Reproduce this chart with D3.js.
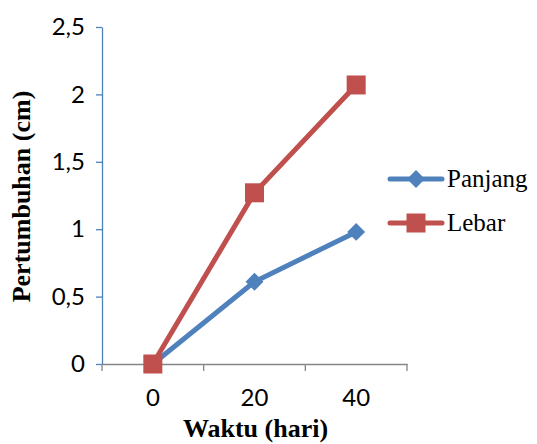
<!DOCTYPE html>
<html>
<head>
<meta charset="utf-8">
<script src="https://cdn.jsdelivr.net/npm/d3@7"></script>
<style>
  html, body { margin: 0; padding: 0; background: #fff; }
  svg { display: block; }
</style>
</head>
<body>
<svg id="chart" width="537" height="444"></svg>
<script>
// Growth measurements (cm) at each observation day
const days = ["0", "20", "40"];
const panjang = [0, 0.61, 0.98];
const lebar = [0, 1.27, 2.07];
const yTicks = [0, 0.5, 1, 1.5, 2, 2.5];
const seriesNames = ["Panjang", "Lebar"];
const seriesColors = ["#4F81BD", "#C0504D"];

const svg = d3.select("#chart");
const plot = { left: 102, right: 407, top: 27, bottom: 364 };

const x = d3.scaleBand().domain(days).range([plot.left, plot.right]);
const y = d3.scaleLinear().domain([0, 2.5]).range([plot.bottom, plot.top]);

const fmt = d => d3.format("")(d).replace(".", ",");
const tickFont = "Lato, 'Open Sans', sans-serif";
const serif = "'Liberation Serif', 'Times New Roman', serif";

// Y axis (blue line, outward ticks)
const yAxis = svg.append("g")
  .attr("transform", `translate(${plot.left},0)`)
  .call(d3.axisLeft(y).tickValues(yTicks).tickFormat(fmt).tickSize(6).tickSizeOuter(0).tickPadding(11));
yAxis.select(".domain").attr("stroke", "#4F81BD").attr("stroke-width", 1.3);
yAxis.selectAll(".tick line").attr("stroke", "#4F81BD").attr("stroke-width", 1.3);
yAxis.selectAll(".tick text")
  .attr("fill", "#000")
  .style("font-family", tickFont)
  .style("font-size", "24px");

// X axis (grey line, ticks at category boundaries)
const xAxis = svg.append("g")
  .attr("transform", `translate(0,${plot.bottom})`)
  .call(d3.axisBottom(x).tickSize(0).tickPadding(25));
xAxis.select(".domain").attr("stroke", "#868686").attr("stroke-width", 1.3);
xAxis.selectAll(".tick text")
  .attr("fill", "#000")
  .style("font-family", tickFont)
  .style("font-size", "24px");
const bounds = days.map(d => x(d)).concat([x.range()[1]]);
xAxis.selectAll(".bound").data(bounds).enter().append("line")
  .attr("x1", d => d).attr("x2", d => d)
  .attr("y1", 0).attr("y2", 7)
  .attr("stroke", "#868686").attr("stroke-width", 1.3);

// Axis titles
svg.append("text")
  .attr("x", (plot.left + plot.right) / 2 + 1)
  .attr("y", 437)
  .attr("text-anchor", "middle")
  .style("font-family", serif)
  .style("font-weight", "bold")
  .style("font-size", "26px")
  .text("Waktu (hari)");

svg.append("text")
  .attr("transform", `translate(30,${(plot.top + plot.bottom) / 2 + 1}) rotate(-90)`)
  .attr("text-anchor", "middle")
  .style("font-family", serif)
  .style("font-weight", "bold")
  .style("font-size", "26px")
  .text("Pertumbuhan (cm)");

// Series lines and markers
const cx = d => x(d) + x.bandwidth() / 2;
const line = d3.line().x((v, i) => cx(days[i])).y(v => y(v));
const allSeries = [panjang, lebar];

allSeries.forEach((vals, s) => {
  svg.append("path")
    .datum(vals)
    .attr("d", line)
    .attr("fill", "none")
    .attr("stroke", seriesColors[s])
    .attr("stroke-width", 5)
    .attr("stroke-linejoin", "round");
});

function drawMarker(g, s, px, py) {
  if (s === 0) {
    g.append("path")
      .attr("d", d3.symbol().type(d3.symbolSquare).size(160)())
      .attr("transform", `translate(${px},${py}) rotate(45)`)
      .attr("fill", seriesColors[s]);
  } else {
    g.append("rect")
      .attr("x", px - 9.5).attr("y", py - 9.5)
      .attr("width", 19).attr("height", 19)
      .attr("fill", seriesColors[s]);
  }
}

allSeries.forEach((vals, s) => {
  const g = svg.append("g");
  vals.forEach((v, i) => drawMarker(g, s, cx(days[i]), y(v)));
});

// Legend
const legendY = [179, 223];
seriesNames.forEach((name, s) => {
  const g = svg.append("g");
  g.append("line")
    .attr("x1", 390).attr("x2", 442)
    .attr("y1", legendY[s]).attr("y2", legendY[s])
    .attr("stroke", seriesColors[s]).attr("stroke-width", 5)
    .attr("stroke-linecap", "round");
  drawMarker(g, s, 416, legendY[s]);
  g.append("text")
    .attr("x", 447).attr("y", legendY[s] + 8)
    .style("font-family", serif)
    .style("font-size", "25px")
    .text(name);
});
</script>
</body>
</html>
